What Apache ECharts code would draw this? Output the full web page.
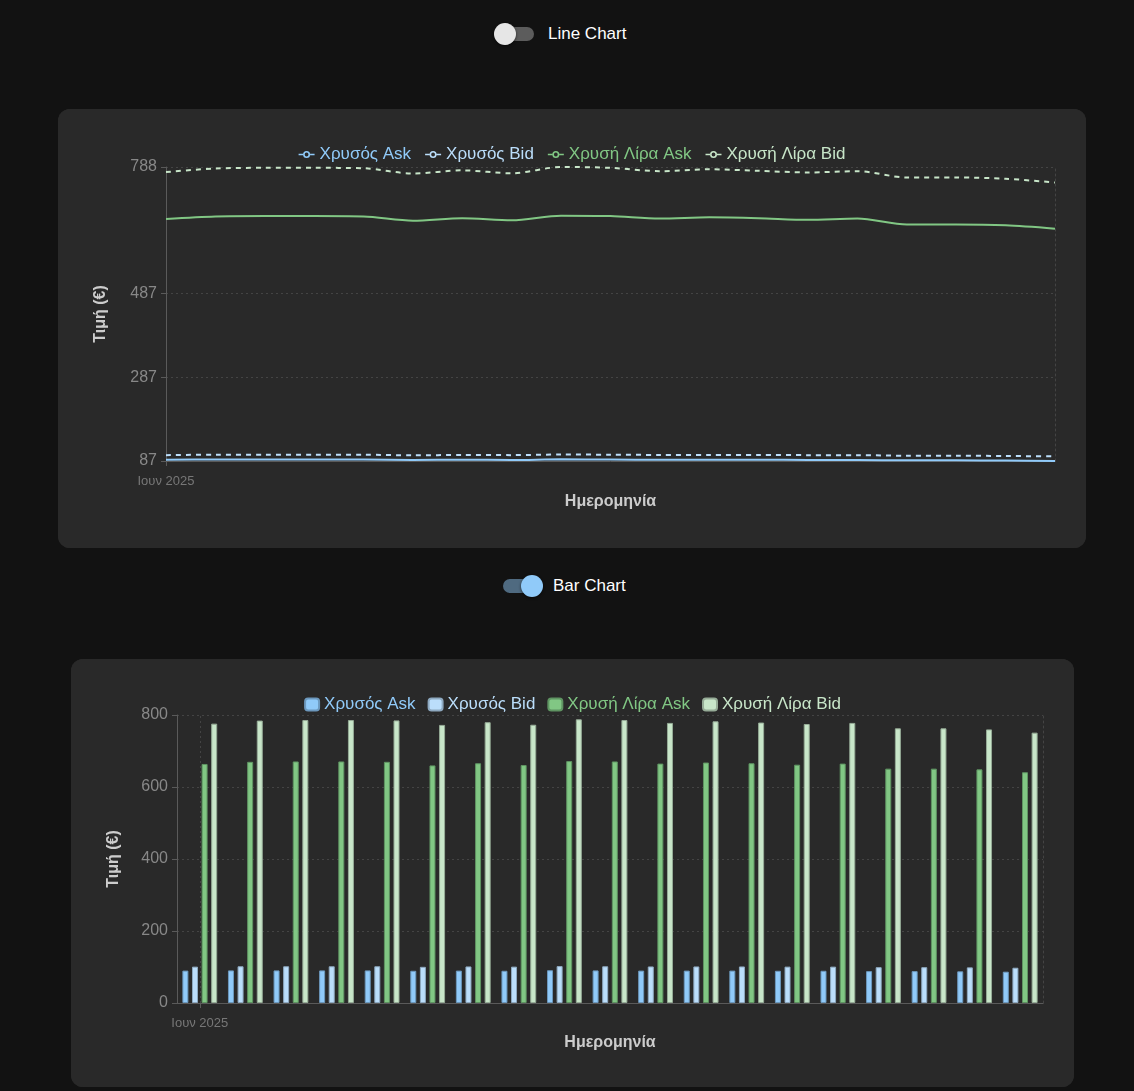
<!DOCTYPE html>
<html><head><meta charset="utf-8">
<script src="https://cdn.jsdelivr.net/npm/echarts@6/dist/echarts.min.js"></script>
<style>
html,body{margin:0;padding:0;background:#121212;width:1134px;height:1091px;overflow:hidden;font-family:"Liberation Sans",Arial,sans-serif;}
.card{position:absolute;background:#292929;border-radius:12px;overflow:hidden;}
#card1{left:58px;top:109px;width:1028px;height:439px;}
#card2{left:71px;top:659px;width:1003px;height:428px;}
.chart{position:absolute;left:0;top:0;width:100%;height:100%;}
.tlabel{position:absolute;color:#fff;font-size:17px;line-height:20px;}
.track{position:absolute;height:14px;border-radius:7px;}
.knob{position:absolute;width:22px;height:22px;border-radius:50%;box-shadow:0 1px 3px rgba(0,0,0,.6);}
</style></head>
<body>
<div class="track" style="left:497px;top:27px;width:37px;background:#5c5c5c;"></div>
<div class="knob" style="left:494px;top:23px;background:#e6e6e6;"></div>
<div class="tlabel" style="left:548px;top:24px;">Line Chart</div>

<div class="track" style="left:503px;top:579px;width:37px;background:#4f6a80;"></div>
<div class="knob" style="left:521px;top:575px;background:#90caf9;"></div>
<div class="tlabel" style="left:553px;top:576px;">Bar Chart</div>

<div class="card" id="card1"><div class="chart" id="c1"></div></div>
<div class="card" id="card2"><div class="chart" id="c2"></div></div>
<script>
const dates = ['2025-06-01','2025-06-02','2025-06-03','2025-06-04','2025-06-05','2025-06-06','2025-06-07','2025-06-08','2025-06-09','2025-06-10','2025-06-11','2025-06-12','2025-06-13','2025-06-14','2025-06-15','2025-06-16','2025-06-17','2025-06-18','2025-06-19'];
const xTickLabels = ['Ιουν 2025'];
const seriesNames = ['Χρυσός Ask','Χρυσός Bid','Χρυσή Λίρα Ask','Χρυσή Λίρα Bid'];
const goldAsk = [90,90.5,90.5,90.5,90.5,89.5,90,89.5,91,90.5,90,90,90,89.5,89.5,88.5,88.5,88,87];
const goldBid = [101,102,102,102,102,100.5,101.5,101,102.5,102,101.5,101.5,101.5,101,101,99.5,99.5,99,98];
const liraAsk = [664,670,671,671,670,660,666,661,672,671,665,668,666,662,665,651,651,649,641];
const liraBid = [776,784.5,786,786,785,772.5,780,773,788,786,778,782.5,779,775,778,763,763,760,751];
const lineYTicks = [87,287,487,788];
const barYTicks = [0,200,400,600,800];
const yAxisTitle = 'Τιμή (€)';
const xAxisTitle = 'Ημερομηνία';

const colors = ['#90caf9','#bbdefb','#81c784','#c8e6c9'];
const borderColors = ['#6c98bd','#8ea9c0','#5f9462','#96ac97'];
const CARD = '#292929';
const FONT = '"Liberation Sans", Arial, sans-serif';
const gridLine = {show:true, lineStyle:{color:'#444', type:[2,3], width:1}};
const axisLineStyle = {color:'#5a5a5a', width:1};
const allData = [goldAsk, goldBid, liraAsk, liraBid];
const lineLegendIcon = 'path://M0 3.25H4.6V4.75H0Z M11.4 3.25H16V4.75H11.4Z M11.5 4A3.5 3.5 0 1 0 4.5 4A3.5 3.5 0 1 0 11.5 4Z M9.9 4A1.9 1.9 0 1 1 6.1 4A1.9 1.9 0 1 1 9.9 4Z';

function legendData(icon){
  return seriesNames.map((n,i)=>{
    const o = {name:n, textStyle:{color:colors[i]}};
    if (icon) o.icon = icon;
    return o;
  });
}
function xAxisCommon(boundaryGap, nameGap){
  return {
    type:'category', data:dates, boundaryGap:boundaryGap,
    name:xAxisTitle, nameLocation:'middle', nameGap:nameGap,
    nameTextStyle:{color:'#cccccc', fontWeight:'bold', fontSize:16, fontFamily:FONT},
    axisLine:{show:true, lineStyle:axisLineStyle},
    axisTick:{show:true, alignWithLabel:true, length:5, lineStyle:axisLineStyle, interval:(i)=>i===0},
    axisLabel:{show:true, color:'#777', fontSize:13, fontFamily:FONT, margin:14,
      interval:(i)=>i===0, formatter:(v,i)=> i===0 ? xTickLabels[0] : ''},
    splitLine:{show:false}
  };
}
function yAxisCommon(min,max,ticks,nameGap){
  return [{
    type:'value', min:min, max:max,
    name:yAxisTitle, nameLocation:'middle', nameGap:nameGap, nameRotate:90,
    nameTextStyle:{color:'#cccccc', fontWeight:'bold', fontSize:16, fontFamily:FONT},
    axisLine:{show:true, lineStyle:axisLineStyle},
    axisTick:{show:true, length:5, lineStyle:axisLineStyle, customValues:ticks},
    axisLabel:{color:'#888', fontSize:16, fontFamily:FONT, margin:9, customValues:ticks},
    splitLine:gridLine
  },{
    type:'value', min:min, max:max, position:'right',
    axisLine:{show:true, lineStyle:{color:'#444', type:[2,3], width:1}},
    axisTick:{show:false}, axisLabel:{show:false}, splitLine:{show:false}
  }];
}

const c1 = echarts.init(document.getElementById('c1'), null, {renderer:'canvas'});
c1.setOption({
  backgroundColor:CARD,
  animation:false,
  textStyle:{fontFamily:FONT},
  legend:{top:32, left:'center', itemWidth:16, itemHeight:8, itemGap:14,
    textStyle:{fontSize:17, fontFamily:FONT}, data:legendData(lineLegendIcon)},
  grid:{left:108, right:31, top:58, bottom:87, containLabel:false},
  xAxis:xAxisCommon(false, 33),
  yAxis:yAxisCommon(87,788,lineYTicks,57),
  series:allData.map((d,i)=>({
    name:seriesNames[i], type:'line', data:d, smooth:0.3,
    symbol:'emptyCircle', symbolSize:5, showSymbol:false,
    itemStyle:{color:colors[i], borderColor:colors[i]},
    lineStyle:{color:colors[i], width:2, type: (i%2===1) ? [5,5] : 'solid'}
  }))
});

const c2 = echarts.init(document.getElementById('c2'), null, {renderer:'canvas'});
const barSeries = allData.map((d,i)=>({
  name:seriesNames[i], type:'bar', data:d, barWidth:6, barGap:'60%',
  itemStyle:{color:colors[i], borderColor:borderColors[i], borderWidth:1}
}));
barSeries.push({
  name:'grid-x', type:'line', data:[], silent:true,
  markLine:{silent:true, symbol:'none', label:{show:false},
    lineStyle:{color:'#444', type:[2,3], width:1}, data:[{xAxis:dates[0]}]}
});
c2.setOption({
  backgroundColor:CARD,
  animation:false,
  textStyle:{fontFamily:FONT},
  legend:{top:32, left:'center', itemWidth:14, itemHeight:12, itemGap:12,
    textStyle:{fontSize:17, fontFamily:FONT}, data:legendData(null)},
  grid:{left:106, right:31, top:56, bottom:84, containLabel:false},
  xAxis:xAxisCommon(true, 31),
  yAxis:yAxisCommon(0,800,barYTicks,55),
  series:barSeries
});
</script>
</body></html>
